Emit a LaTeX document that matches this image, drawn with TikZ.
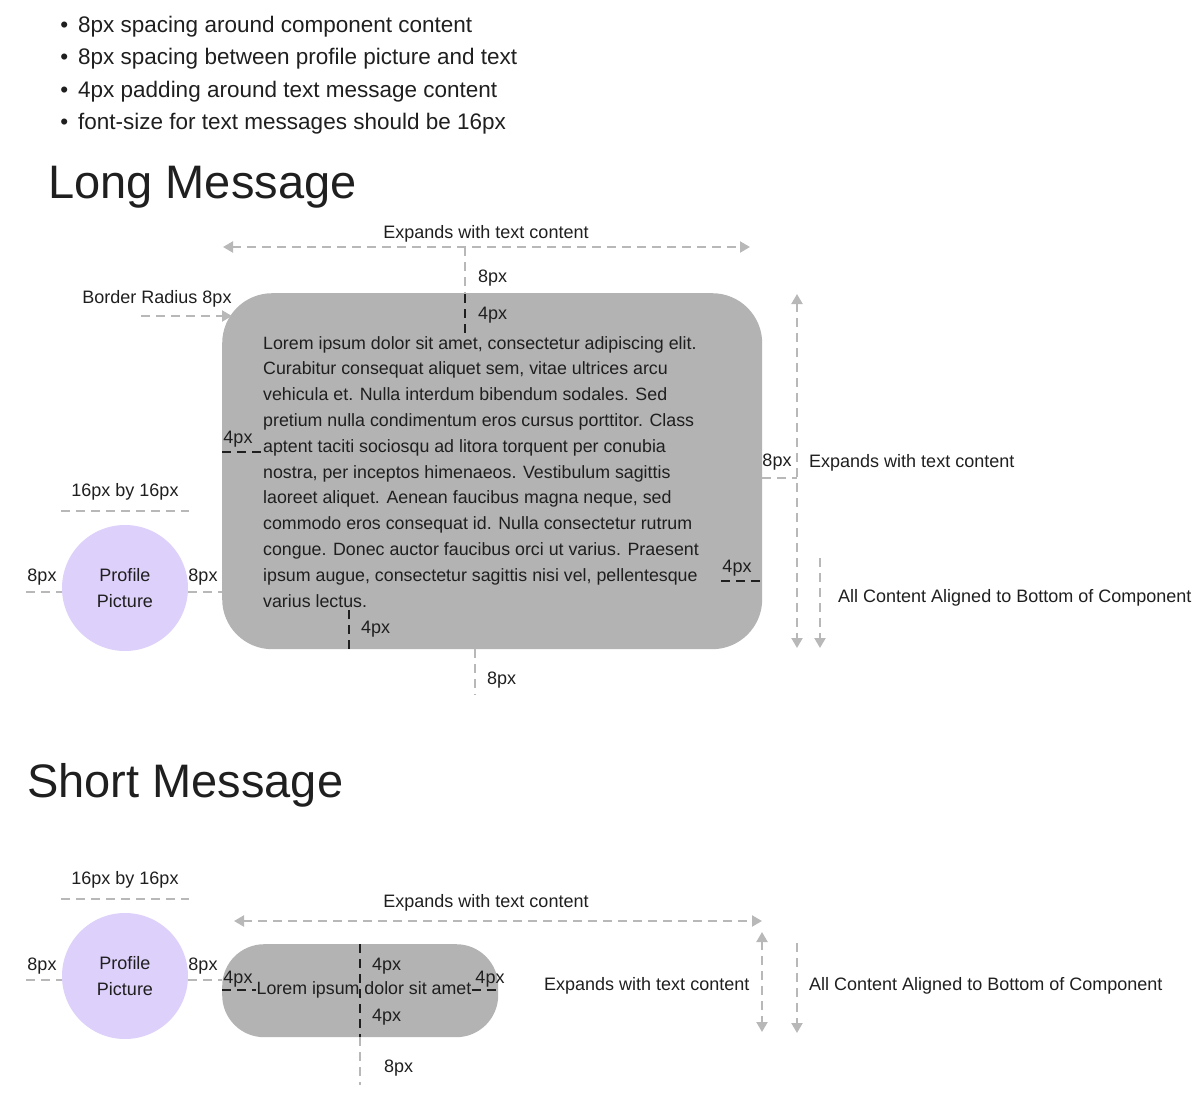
\documentclass[tikz,border=0pt]{standalone}
\usepackage{fontspec}
\setmainfont{Liberation Sans}
\usepackage{tikz}
\usetikzlibrary{shapes,arrows,arrows.meta,positioning}
\definecolor{ink}{HTML}{1F1F1F}
\definecolor{guidegray}{HTML}{B8B8B8}
\definecolor{bubblegray}{HTML}{B3B3B3}
\definecolor{avatarlilac}{HTML}{DDD0FA}
\tikzstyle{note} = [text = ink, font = \fontsize{18}{20}\selectfont, inner sep = 0pt, yshift = -2.5pt]
\tikzstyle{bullet} = [text = ink, font = \fontsize{22.5}{25}\selectfont, inner sep = 0pt, anchor = west, yshift = -3pt]
\tikzstyle{heading} = [text = ink, font = \fontsize{47}{50}\selectfont, inner sep = 0pt, anchor = west, yshift = -3.5pt]
\tikzstyle{msgtext} = [text = ink, font = \fontsize{17.8}{25.8}\selectfont, inner sep = 0pt, align = left]
\tikzstyle{bubble} = [rectangle, fill = bubblegray, rounded corners = 50pt, anchor = north west, inner sep = 0pt]
\tikzstyle{avatar} = [circle, fill = avatarlilac, minimum size = 126pt, inner sep = 0pt, align = center, text = ink, font = \fontsize{18}{26}\selectfont]
\tikzstyle{line} = [draw = guidegray, line width = 2.2pt, dash pattern = on 9pt off 6pt]
\tikzstyle{line2} = [line, {Triangle[length = 10pt, width = 11pt]}-{Triangle[length = 10pt, width = 11pt]}]
\tikzstyle{line3} = [line, -{Triangle[length = 10pt, width = 11pt]}]
\tikzstyle{pad} = [draw = ink, line width = 2.2pt, dash pattern = on 9pt off 6pt]

\begin{document}
\begin{tikzpicture}[x = 1pt, y = -1pt]
			\useasboundingbox (0, 0) rectangle (1203, 1117);
			% Place nodes
			\node [bullet] (b1) at (78, 24) {\llap{\textbullet\hspace{10pt}}8px spacing around component content};
			\node [bullet] (b2) at (78, 56) {\llap{\textbullet\hspace{10pt}}8px spacing between profile picture and text};
			\node [bullet] (b3) at (78, 89) {\llap{\textbullet\hspace{10pt}}4px padding around text message content};
			\node [bullet] (b4) at (78, 121) {\llap{\textbullet\hspace{10pt}}font-size for text messages should be 16px};
			\node [heading] (longtitle) at (48, 184) {Long Message};
			\node [heading] (shorttitle) at (27, 782) {Short Message};

			% long message
			\node [bubble, minimum width = 540pt, minimum height = 356pt] (longmsg) at (222, 293) {};
			\node [msgtext, anchor = north west] (longtext) at (263, 336) {Lorem ipsum dolor sit amet, consectetur adipiscing elit.\\
				Curabitur consequat aliquet sem, vitae ultrices arcu\\
				vehicula et. Nulla interdum bibendum sodales. Sed\\
				pretium nulla condimentum eros cursus porttitor. Class\\
				aptent taciti sociosqu ad litora torquent per conubia\\
				nostra, per inceptos himenaeos. Vestibulum sagittis\\
				laoreet aliquet. Aenean faucibus magna neque, sed\\
				commodo eros consequat id. Nulla consectetur rutrum\\
				congue. Donec auctor faucibus orci ut varius. Praesent\\
				ipsum augue, consectetur sagittis nisi vel, pellentesque\\
				varius lectus.};
			\node [avatar] (longpic) at (125, 588) {Profile\\Picture};
			\node [note] (toplabel) at (486, 231) {Expands with text content};
			\node [note, anchor = west] (topgap) at (478, 276) {8px};
			\node [note, anchor = west] (toppad) at (478, 313) {4px};
			\node [note] (radiuslabel) at (157, 296) {Border Radius 8px};
			\node [note] (leftpad) at (238, 437) {4px};
			\node [note] (rightgap) at (777, 460) {8px};
			\node [note, anchor = west] (rightlabel) at (809, 460) {Expands with text content};
			\node [note, anchor = west] (alignlabel) at (838, 595) {All Content Aligned to Bottom of Component};
			\node [note] (rightpad) at (737, 566) {4px};
			\node [note, anchor = west] (botpad) at (361, 627) {4px};
			\node [note, anchor = west] (botgap) at (487, 678) {8px};
			\node [note] (sizelabel) at (125, 489) {16px by 16px};
			\node [note] (picgapl) at (42, 575) {8px};
			\node [note] (picgapr) at (203, 575) {8px};

			% short message
			\node [bubble, minimum width = 276pt, minimum height = 93pt, rounded corners = 42pt] (shortmsg) at (222, 944) {};
			\node [msgtext] (shorttext) at (364, 990) {Lorem ipsum dolor sit amet};
			\node [avatar] (shortpic) at (125, 976) {Profile\\Picture};
			\node [note] (sizelabel2) at (125, 877) {16px by 16px};
			\node [note] (picgapl2) at (42, 964) {8px};
			\node [note] (picgapr2) at (203, 964) {8px};
			\node [note] (leftpad2) at (238, 977) {4px};
			\node [note] (rightpad2) at (490, 977) {4px};
			\node [note, anchor = west] (toppad2) at (372, 964) {4px};
			\node [note, anchor = west] (botpad2) at (372, 1015) {4px};
			\node [note, anchor = west] (botgap2) at (384, 1066) {8px};
			\node [note] (toplabel2) at (486, 900) {Expands with text content};
			\node [note, anchor = west] (rightlabel2) at (544, 983) {Expands with text content};
			\node [note, anchor = west] (alignlabel2) at (809, 983) {All Content Aligned to Bottom of Component};

			% Place coordinates
			\coordinate (widthl) at (223, 247);
			\coordinate (widthr) at (750, 247);
			\coordinate (topgapa) at (465, 247);
			\coordinate (topgapb) at (465, 294);
			\coordinate (toppadb) at (465, 336);
			\coordinate (radiusa) at (141, 316);
			\coordinate (radiusb) at (232, 316);
			\coordinate (leftpada) at (222, 452);
			\coordinate (leftpadb) at (263, 452);
			\coordinate (rightgapa) at (762, 478);
			\coordinate (rightgapb) at (797, 478);
			\coordinate (heighta) at (797, 294);
			\coordinate (heightb) at (797, 648);
			\coordinate (aligna) at (820, 558);
			\coordinate (alignb) at (820, 648);
			\coordinate (rightpada) at (721, 581);
			\coordinate (rightpadb) at (762, 581);
			\coordinate (botpada) at (349, 610);
			\coordinate (botpadb) at (349, 649);
			\coordinate (botgapa) at (475, 649);
			\coordinate (botgapb) at (475, 695);
			\coordinate (sizea) at (61, 511);
			\coordinate (sizeb) at (189, 511);
			\coordinate (edgel) at (26, 592);
			\coordinate (sizea2) at (61, 899);
			\coordinate (sizeb2) at (189, 899);
			\coordinate (edgel2) at (26, 980);
			\coordinate (widthl2) at (234, 921);
			\coordinate (widthr2) at (762, 921);
			\coordinate (midtop) at (360, 944);
			\coordinate (midbot) at (360, 1037);
			\coordinate (midgap) at (360, 1085);
			\coordinate (heighta2) at (762, 932);
			\coordinate (heightb2) at (762, 1032);
			\coordinate (aligna2) at (797, 943);
			\coordinate (alignb2) at (797, 1033);

			% Draw edges
			\path [line2] (widthl) -- (widthr);
			\path [line] (topgapa) -- (topgapb);
			\path [pad] (topgapb) -- (toppadb);
			\path [line3] (radiusa) -- (radiusb);
			\path [pad] (leftpada) -- (leftpadb);
			\path [line] (rightgapa) -- (rightgapb);
			\path [line2] (heighta) -- (heightb);
			\path [line3] (aligna) -- (alignb);
			\path [pad] (rightpada) -- (rightpadb);
			\path [pad] (botpada) -- (botpadb);
			\path [line] (botgapa) -- (botgapb);
			\path [line] (sizea) -- (sizeb);
			\path [line] (edgel) -- (longpic.west |- edgel);
			\path [line] (longpic.east |- edgel) -- (longmsg.west |- edgel);
			\path [line] (sizea2) -- (sizeb2);
			\path [line] (edgel2) -- (shortpic.west |- edgel2);
			\path [line] (shortpic.east |- edgel2) -- (shortmsg.west |- edgel2);
			\path [pad] (shortmsg.west |- shorttext) -- (shorttext.west);
			\path [pad] (shorttext.east) -- (shortmsg.east |- shorttext);
			\path [line2] (widthl2) -- (widthr2);
			\path [pad] (midtop) -- (midbot);
			\path [line] (midbot) -- (midgap);
			\path [line2] (heighta2) -- (heightb2);
			\path [line3] (aligna2) -- (alignb2);
\end{tikzpicture}
\end{document}
